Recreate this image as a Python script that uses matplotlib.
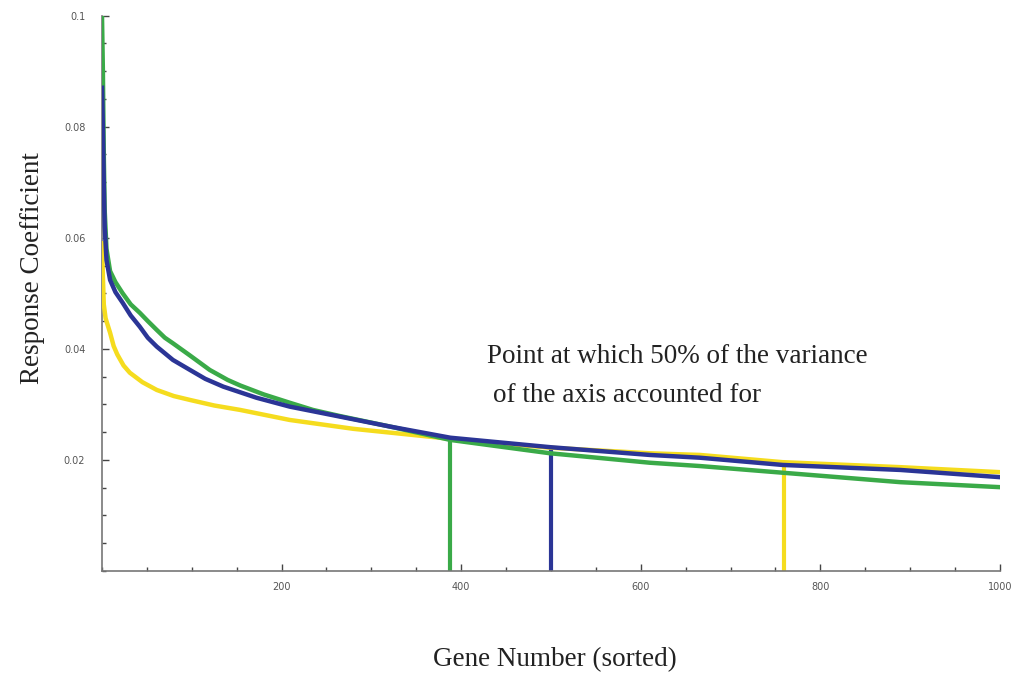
import matplotlib
matplotlib.use('Agg')
from matplotlib import pyplot as plt
from matplotlib.ticker import MultipleLocator

# gene rank (sorted) and response coefficient
green_x = [0, 1, 2, 3, 5, 9, 15, 23, 32, 42, 51, 61, 70, 79, 98, 120, 140, 154, 180, 209, 235, 265, 321, 388,
           499, 610, 666, 758, 889, 1000]
green_y = [0.1, 0.09, 0.075, 0.065, 0.058, 0.054, 0.052, 0.050, 0.048, 0.0465, 0.045, 0.0434, 0.042, 0.041,
           0.0388, 0.0362, 0.0344, 0.0334, 0.0318, 0.0303, 0.029, 0.0279, 0.026, 0.0236, 0.0212, 0.0195,
           0.0189, 0.0177, 0.016, 0.0151]

blue_x = [0, 1, 2, 3, 5, 9, 15, 23, 32, 42, 51, 61, 70, 79, 98, 115, 135, 172, 209, 265, 321, 388, 499, 610,
          666, 758, 889, 1000]
blue_y = [0.087, 0.08, 0.07, 0.062, 0.056, 0.0524, 0.0502, 0.0483, 0.046, 0.044, 0.042, 0.0404, 0.0392,
          0.038, 0.0362, 0.0346, 0.0332, 0.0312, 0.0296, 0.0278, 0.026, 0.024, 0.0223, 0.0209, 0.0204,
          0.0191, 0.0182, 0.0169]

yellow_x = [0, 1, 2, 4, 9, 13, 17, 24, 31, 45, 61, 80, 98, 125, 154, 209, 280, 388, 499, 610, 666, 758, 889, 1000]
yellow_y = [0.059, 0.053, 0.048, 0.0455, 0.0429, 0.0405, 0.039, 0.037, 0.0357, 0.034, 0.0326, 0.0315, 0.0308,
            0.0298, 0.029, 0.0272, 0.0256, 0.0238, 0.0222, 0.0212, 0.0209, 0.0196, 0.0187, 0.0178]

# 50% variance points
cut_x = {'green': 388, 'blue': 500, 'yellow': 760}
cut_y = {'green': 0.0236, 'blue': 0.0223, 'yellow': 0.0196}

x_ticks = [200, 400, 600, 800, 1000]
y_ticks = [0.02, 0.04, 0.06, 0.08, 0.1]
y_tick_labels = ['0.02', '0.04', '0.06', '0.08', '0.1']

GREEN = '#3aaa48'
BLUE = '#2b3596'
YELLOW = '#f5dc1e'
GRAY = '#777777'
serif = ['Liberation Serif', 'DejaVu Serif']

fig = plt.figure(figsize=(10.23, 6.75), dpi=100)
ax = fig.add_axes([0.0997, 0.154, 0.8778, 0.823])

for c, col in [('green', GREEN), ('blue', BLUE), ('yellow', YELLOW)]:
    ax.vlines(cut_x[c], 0, cut_y[c], color=col, lw=3, zorder=2)

ax.plot(yellow_x, yellow_y, color=YELLOW, lw=3.2, zorder=3)
ax.plot(green_x, green_y, color=GREEN, lw=3.2, zorder=4)
ax.plot(blue_x, blue_y, color=BLUE, lw=3.2, zorder=5)

ax.set_xlim(0, 1000)
ax.set_ylim(0, 0.1)
ax.spines['top'].set_visible(False)
ax.spines['right'].set_visible(False)
for s in ['left', 'bottom']:
    ax.spines[s].set_color(GRAY)
    ax.spines[s].set_linewidth(1.2)

ax.set_xticks(x_ticks)
ax.set_xticklabels([str(t) for t in x_ticks])
ax.set_yticks(y_ticks)
ax.set_yticklabels(y_tick_labels)
ax.xaxis.set_minor_locator(MultipleLocator(50))
ax.yaxis.set_minor_locator(MultipleLocator(0.005))
ax.tick_params(which='major', direction='in', length=5, width=1, color='#444444',
               labelsize=7, labelcolor='#555555', pad=8)
ax.tick_params(which='minor', direction='in', length=3, width=1, color='#444444')
ax.tick_params(axis='y', which='major', pad=12)

ax.set_xlabel('Gene Number (sorted)', fontsize=19.5, family=serif, color='#222222')
ax.set_ylabel('Response Coefficient', fontsize=19.5, family=serif, color='#222222')
ax.xaxis.set_label_coords(0.504, -0.160)
ax.yaxis.set_label_coords(-0.077, 0.546)
ax.xaxis.label.set_va('center')
ax.yaxis.label.set_va('center')

ax.text(429, 0.0386, 'Point at which 50% of the variance', fontsize=19.5, family=serif,
        color='#222222', va='center', ha='left')
ax.text(435, 0.0316, 'of the axis accounted for', fontsize=19.5, family=serif,
        color='#222222', va='center', ha='left')

plt.savefig('out.png', dpi=100)
plt.close()
